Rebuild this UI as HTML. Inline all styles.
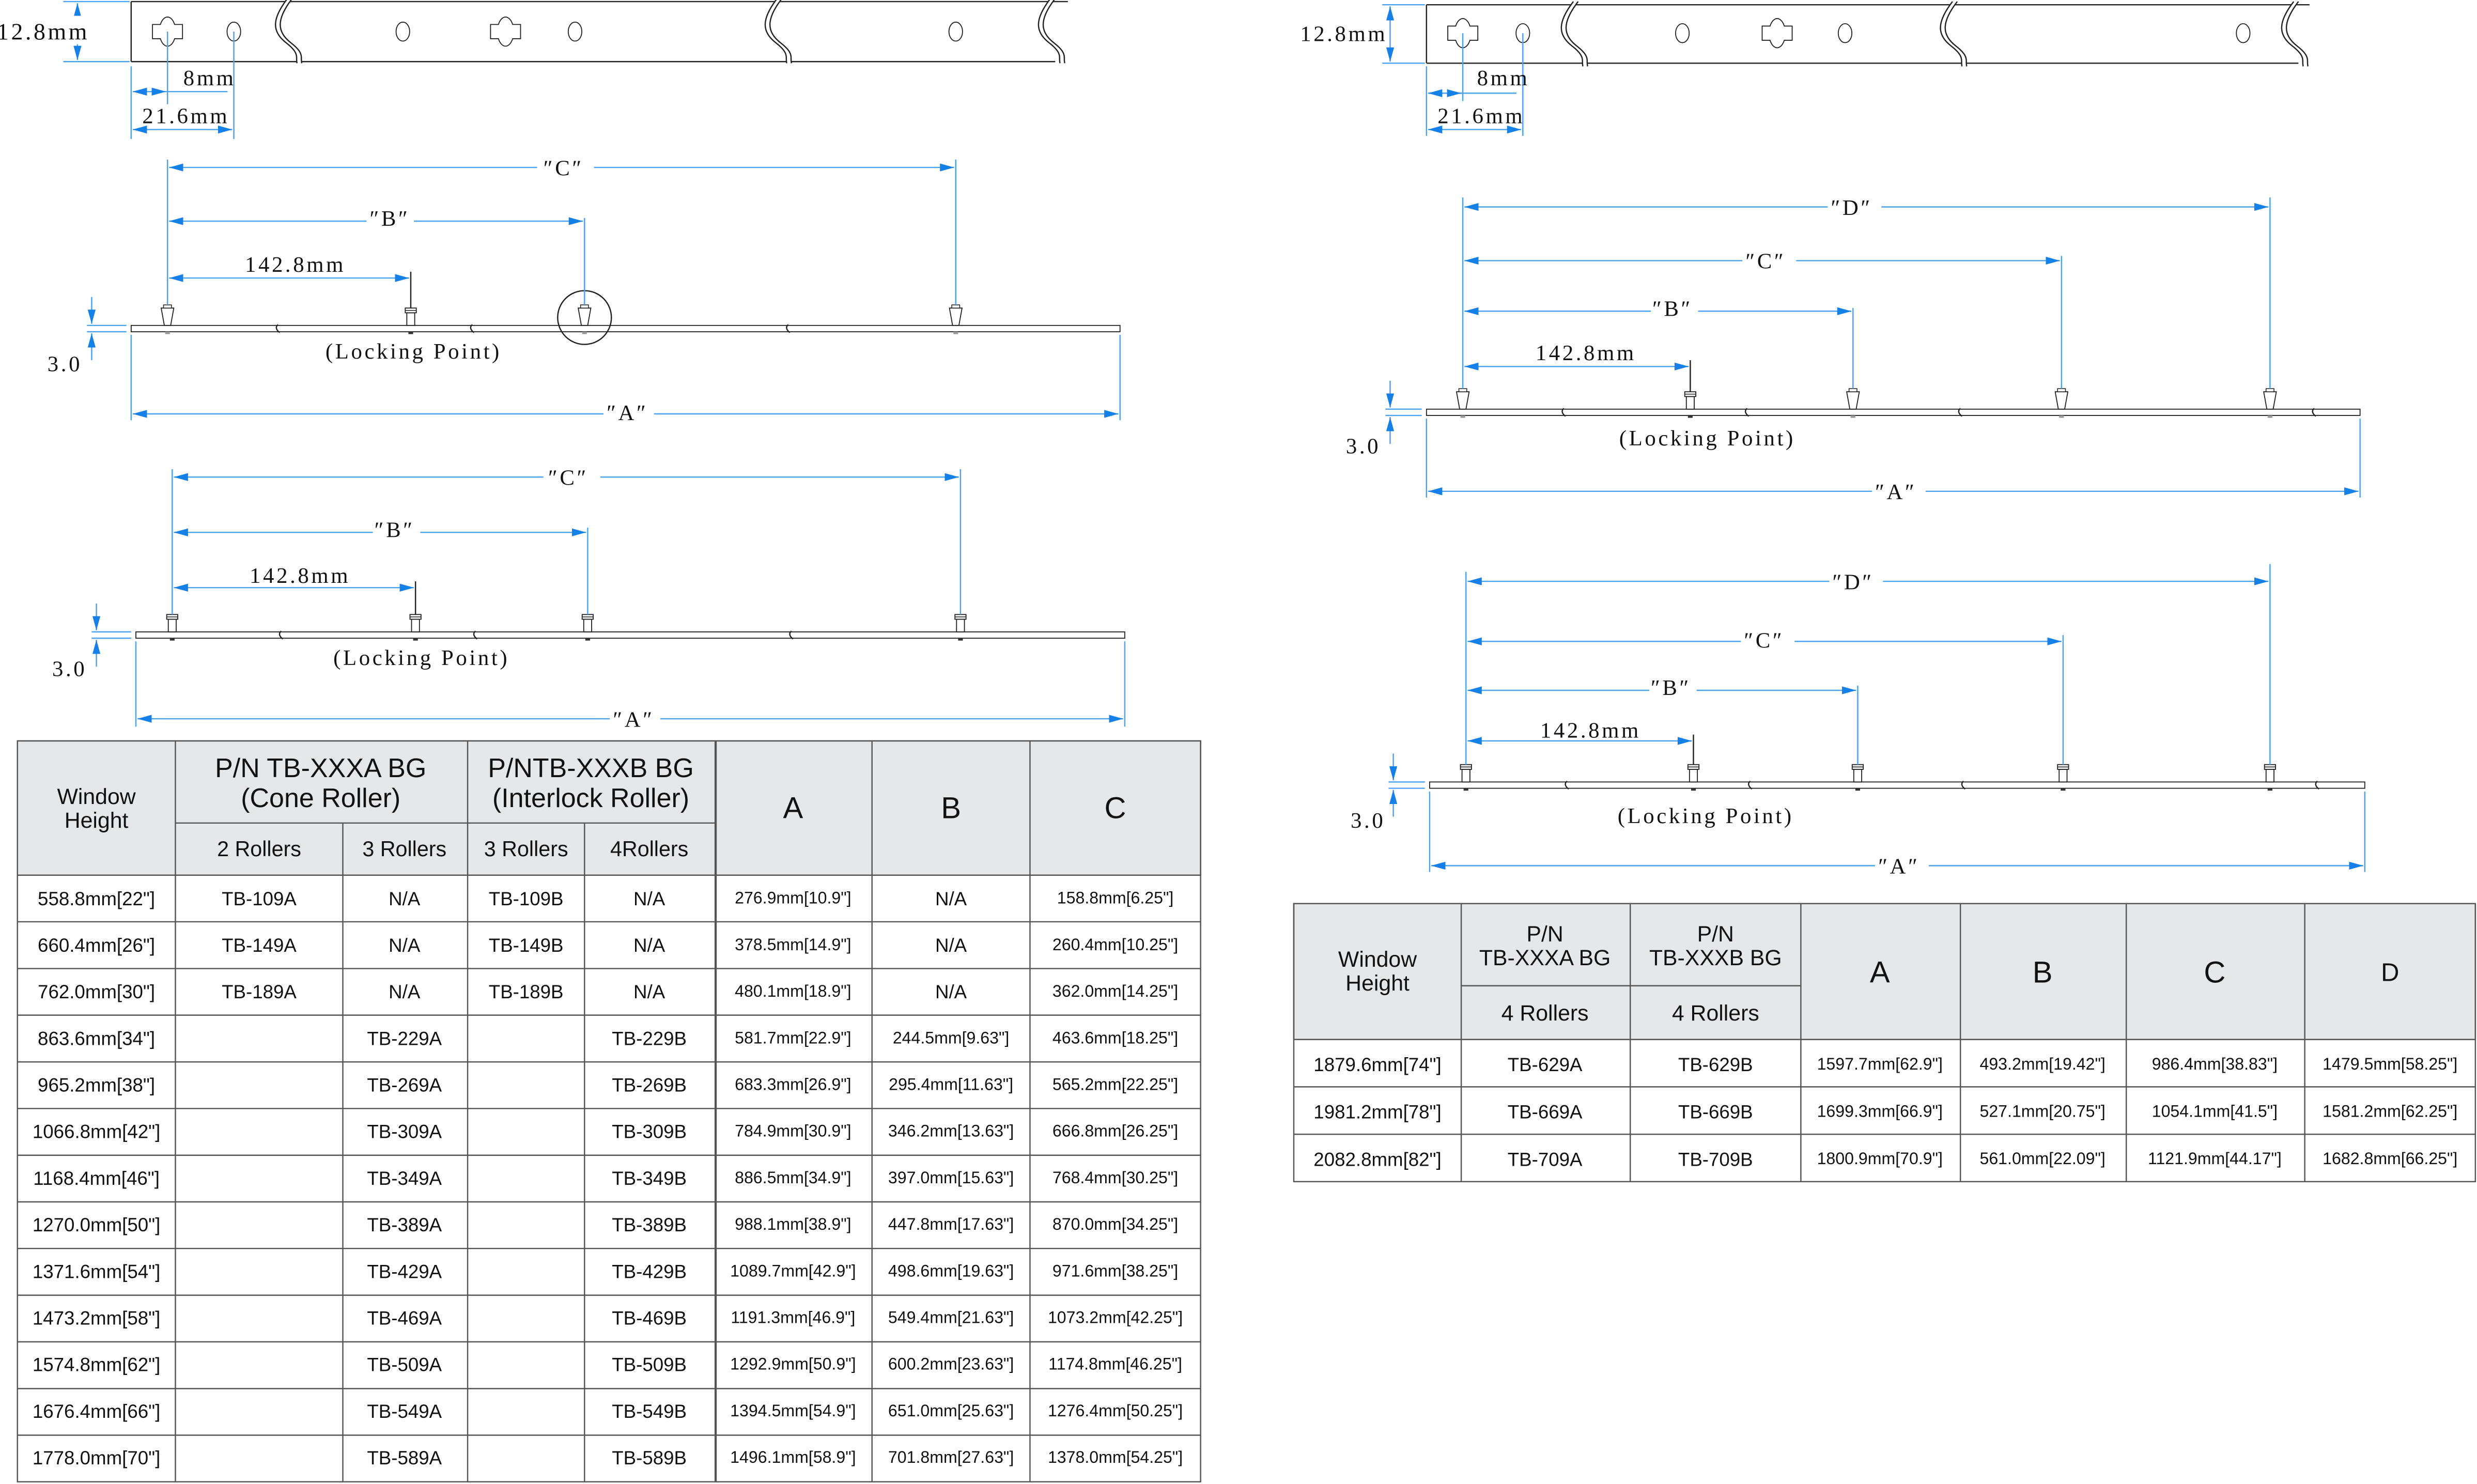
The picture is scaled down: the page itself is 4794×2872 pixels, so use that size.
<!DOCTYPE html>
<html><head><meta charset="utf-8"><style>
html,body{margin:0;padding:0;background:#fff;}
svg{display:block;}
.d{font-family:"Liberation Serif",serif;font-size:14px;letter-spacing:1.5px;fill:#111;}
.t{font-family:"Liberation Sans",sans-serif;fill:#111;text-anchor:middle;}
.dl{stroke:#4aa3f0;stroke-width:0.8;fill:none;}
.ol{stroke:#222;stroke-width:0.8;fill:none;}
</style></head><body>
<svg width="4794" height="2872" viewBox="0 0 1568 939.4" xmlns="http://www.w3.org/2000/svg">
<defs>
<marker id="a" markerUnits="userSpaceOnUse" markerWidth="9" markerHeight="5" refX="9" refY="2.5" orient="auto-start-reverse"><path d="M0,0L9,2.5L0,5z" fill="#1580e8"/></marker>
<g id="kh"><path d="M-9.5,-4.5H-4.5A5.2,9.5 0 0 1 4.5,-4.5H9.5V4.5H4.5A5.2,9.5 0 0 1 -4.5,4.5H-9.5Z" fill="#fff" stroke="#222" stroke-width="0.6"/></g>
<g id="ho"><ellipse cx="0" cy="0" rx="4.3" ry="6" fill="#fff" stroke="#222" stroke-width="0.6"/></g>
<g id="br"><path d="M0,-1C-10,12 -10,20 -1,27S5,36 6,40L9,40C8,36 6,30 2,27S-7,12 3,-1Z" fill="#fff"/><path d="M0,-1C-10,12 -10,20 -1,27S5,36 6,40M3,-1C-7,12 -7,20 2,27S8,36 9,40" class="ol" stroke-width="0.5"/></g>
<g id="cone"><path d="M-4,-11L4,-11L2,0L-2,0Z" fill="#fff" stroke="#222" stroke-width="0.6"/><rect x="-2.5" y="-13" width="5" height="2" fill="#fff" stroke="#222" stroke-width="0.5"/><rect x="-1.5" y="4" width="3" height="1.5" fill="#999"/></g>
<g id="flat"><rect x="-2.5" y="-8" width="5" height="8" fill="#fff" stroke="#222" stroke-width="0.6"/><rect x="-3.5" y="-11" width="7" height="3" fill="#fff" stroke="#222" stroke-width="0.6"/><line x1="-3.5" y1="-9.5" x2="3.5" y2="-9.5" stroke="#222" stroke-width="0.5"/><rect x="-1.5" y="4" width="3" height="1.5" fill="#333"/></g>
<g id="rb"><path d="M0,-0.5 C-2,1 -1,3 1,4.5" class="ol" stroke-width="0.5"/></g>
</defs>

<!-- TOP LEFT STRIP -->
<line x1="83" y1="1" x2="676" y2="1" class="ol"/><line x1="83" y1="39" x2="668" y2="39" class="ol"/><line x1="83" y1="1" x2="83" y2="39" class="ol"/>
<use href="#br" x="182" y="0"/><use href="#br" x="492" y="0"/><use href="#br" x="665" y="0"/>
<use href="#kh" x="106" y="20"/><use href="#ho" x="148" y="20"/><use href="#ho" x="255" y="20"/><use href="#kh" x="320" y="20"/><use href="#ho" x="364" y="20"/><use href="#ho" x="605" y="20"/>
<line x1="40" y1="1" x2="82" y2="1" class="dl"/><line x1="40" y1="39" x2="82" y2="39" class="dl"/>
<line x1="49" y1="2" x2="49" y2="38" class="dl" marker-start="url(#a)" marker-end="url(#a)"/>
<rect x="0" y="10" width="54" height="18" fill="#fff"/>
<text x="-2" y="25" class="d" style="font-size:15px">12.8mm</text>
<line x1="83" y1="42" x2="83" y2="88" class="dl"/><line x1="106" y1="20" x2="106" y2="66" class="dl"/><line x1="148" y1="20" x2="148" y2="88" class="dl"/>
<line x1="84" y1="58" x2="105" y2="58" class="dl" marker-start="url(#a)" marker-end="url(#a)"/><line x1="105" y1="58" x2="144" y2="58" class="dl"/>
<line x1="84" y1="82" x2="147" y2="82" class="dl" marker-start="url(#a)" marker-end="url(#a)"/>
<text x="116" y="54" class="d">8mm</text><text x="90" y="78" class="d">21.6mm</text>

<!-- TOP RIGHT STRIP -->
<line x1="903" y1="3" x2="1462" y2="3" class="ol"/><line x1="903" y1="40" x2="1455" y2="40" class="ol"/><line x1="903" y1="3" x2="903" y2="40" class="ol"/>
<use href="#br" x="996" y="2"/><use href="#br" x="1236" y="2"/><use href="#br" x="1452" y="2"/>
<use href="#kh" x="926" y="21"/><use href="#ho" x="964" y="21"/><use href="#ho" x="1065" y="21"/><use href="#kh" x="1125" y="21"/><use href="#ho" x="1168" y="21"/><use href="#ho" x="1420" y="21"/>
<line x1="875" y1="3" x2="902" y2="3" class="dl"/><line x1="875" y1="40" x2="902" y2="40" class="dl"/>
<line x1="880" y1="4" x2="880" y2="39" class="dl" marker-start="url(#a)" marker-end="url(#a)"/>
<rect x="822" y="12" width="52" height="18" fill="#fff"/>
<text x="823" y="26" class="d">12.8mm</text>
<line x1="903" y1="42" x2="903" y2="86" class="dl"/><line x1="926" y1="21" x2="926" y2="64" class="dl"/><line x1="964" y1="21" x2="964" y2="86" class="dl"/>
<line x1="904" y1="59" x2="925" y2="59" class="dl" marker-start="url(#a)" marker-end="url(#a)"/><line x1="925" y1="59" x2="960" y2="59" class="dl"/>
<line x1="904" y1="82" x2="963" y2="82" class="dl" marker-start="url(#a)" marker-end="url(#a)"/>
<text x="935" y="54" class="d">8mm</text><text x="910" y="78" class="d">21.6mm</text>

<!-- DRAWING 1 -->
<rect x="83" y="206" width="626" height="4" fill="#fff" stroke="#222" stroke-width="0.6"/>
<use href="#rb" x="176" y="206"/><use href="#rb" x="299" y="206"/><use href="#rb" x="499" y="206"/>
<circle cx="370" cy="201" r="17" class="ol" stroke-width="0.6"/>
<use href="#cone" x="106" y="206"/><use href="#flat" x="260" y="206"/><use href="#cone" x="370" y="206"/><use href="#cone" x="605" y="206"/>
<line x1="106" y1="101" x2="106" y2="193" class="dl"/><line x1="260" y1="172" x2="260" y2="195" class="ol" stroke-width="0.5"/><line x1="370" y1="138" x2="370" y2="193" class="dl"/><line x1="605" y1="101" x2="605" y2="193" class="dl"/>
<line x1="107" y1="176" x2="259" y2="176" class="dl" marker-start="url(#a)" marker-end="url(#a)"/>
<line x1="107" y1="140" x2="369" y2="140" class="dl" marker-start="url(#a)" marker-end="url(#a)"/>
<line x1="107" y1="106" x2="604" y2="106" class="dl" marker-start="url(#a)" marker-end="url(#a)"/>
<rect x="232" y="130" width="30" height="16" fill="#fff"/><rect x="340" y="97" width="36" height="16" fill="#fff"/>
<text x="155" y="172" class="d">142.8mm</text><text x="234" y="143" class="d">″B″</text><text x="344" y="111" class="d">″C″</text>
<line x1="83" y1="212" x2="83" y2="266" class="dl"/><line x1="709" y1="212" x2="709" y2="266" class="dl"/>
<line x1="84" y1="262" x2="708" y2="262" class="dl" marker-start="url(#a)" marker-end="url(#a)"/>
<rect x="382" y="253" width="32" height="16" fill="#fff"/><text x="384" y="266" class="d">″A″</text>
<line x1="55" y1="206" x2="80" y2="206" class="dl"/><line x1="55" y1="210" x2="80" y2="210" class="dl"/>
<line x1="58" y1="188" x2="58" y2="205" class="dl" marker-end="url(#a)"/><line x1="58" y1="228" x2="58" y2="211" class="dl" marker-end="url(#a)"/>
<text x="30" y="235" class="d">3.0</text>
<text x="206" y="227" class="d">(Locking Point)</text>

<!-- DRAWING 2 -->
<rect x="86" y="400" width="626" height="4" fill="#fff" stroke="#222" stroke-width="0.6"/>
<use href="#rb" x="178" y="400"/><use href="#rb" x="301" y="400"/><use href="#rb" x="501" y="400"/>
<use href="#flat" x="109" y="400"/><use href="#flat" x="263" y="400"/><use href="#flat" x="372" y="400"/><use href="#flat" x="608" y="400"/>
<line x1="109" y1="297" x2="109" y2="389" class="dl"/><line x1="263" y1="368" x2="263" y2="389" class="ol" stroke-width="0.5"/><line x1="372" y1="334" x2="372" y2="389" class="dl"/><line x1="608" y1="297" x2="608" y2="389" class="dl"/>
<line x1="110" y1="372" x2="262" y2="372" class="dl" marker-start="url(#a)" marker-end="url(#a)"/>
<line x1="110" y1="337" x2="371" y2="337" class="dl" marker-start="url(#a)" marker-end="url(#a)"/>
<line x1="110" y1="302" x2="607" y2="302" class="dl" marker-start="url(#a)" marker-end="url(#a)"/>
<rect x="236" y="327" width="30" height="16" fill="#fff"/><rect x="344" y="293" width="36" height="16" fill="#fff"/>
<text x="158" y="369" class="d">142.8mm</text><text x="237" y="340" class="d">″B″</text><text x="347" y="307" class="d">″C″</text>
<line x1="86" y1="406" x2="86" y2="460" class="dl"/><line x1="712" y1="406" x2="712" y2="460" class="dl"/>
<line x1="87" y1="455" x2="711" y2="455" class="dl" marker-start="url(#a)" marker-end="url(#a)"/>
<rect x="386" y="446" width="32" height="16" fill="#fff"/><text x="388" y="460" class="d">″A″</text>
<line x1="58" y1="400" x2="83" y2="400" class="dl"/><line x1="58" y1="404" x2="83" y2="404" class="dl"/>
<line x1="61" y1="382" x2="61" y2="399" class="dl" marker-end="url(#a)"/><line x1="61" y1="422" x2="61" y2="405" class="dl" marker-end="url(#a)"/>
<text x="33" y="428" class="d">3.0</text>
<text x="211" y="421" class="d">(Locking Point)</text>

<!-- DRAWING 3 -->
<rect x="903" y="259" width="591" height="4" fill="#fff" stroke="#222" stroke-width="0.6"/>
<use href="#rb" x="990" y="259"/><use href="#rb" x="1106" y="259"/><use href="#rb" x="1241" y="259"/><use href="#rb" x="1465" y="259"/>
<use href="#cone" x="926" y="259"/><use href="#flat" x="1070" y="259"/><use href="#cone" x="1173" y="259"/><use href="#cone" x="1305" y="259"/><use href="#cone" x="1437" y="259"/>
<line x1="926" y1="125" x2="926" y2="246" class="dl"/><line x1="1070" y1="228" x2="1070" y2="248" class="ol" stroke-width="0.5"/><line x1="1173" y1="195" x2="1173" y2="246" class="dl"/><line x1="1305" y1="162" x2="1305" y2="246" class="dl"/><line x1="1437" y1="125" x2="1437" y2="246" class="dl"/>
<line x1="927" y1="232" x2="1069" y2="232" class="dl" marker-start="url(#a)" marker-end="url(#a)"/>
<line x1="927" y1="197" x2="1172" y2="197" class="dl" marker-start="url(#a)" marker-end="url(#a)"/>
<line x1="927" y1="165" x2="1304" y2="165" class="dl" marker-start="url(#a)" marker-end="url(#a)"/>
<line x1="927" y1="131" x2="1436" y2="131" class="dl" marker-start="url(#a)" marker-end="url(#a)"/>
<rect x="1045" y="187" width="30" height="16" fill="#fff"/><rect x="1103" y="156" width="34" height="16" fill="#fff"/><rect x="1157" y="122" width="34" height="16" fill="#fff"/>
<text x="972" y="228" class="d">142.8mm</text><text x="1046" y="200" class="d">″B″</text><text x="1105" y="170" class="d">″C″</text><text x="1159" y="136" class="d">″D″</text>
<line x1="903" y1="265" x2="903" y2="315" class="dl"/><line x1="1494" y1="265" x2="1494" y2="315" class="dl"/>
<line x1="904" y1="311" x2="1493" y2="311" class="dl" marker-start="url(#a)" marker-end="url(#a)"/>
<rect x="1185" y="302" width="34" height="16" fill="#fff"/><text x="1187" y="316" class="d">″A″</text>
<line x1="877" y1="259" x2="900" y2="259" class="dl"/><line x1="877" y1="263" x2="900" y2="263" class="dl"/>
<line x1="880" y1="241" x2="880" y2="258" class="dl" marker-end="url(#a)"/><line x1="880" y1="281" x2="880" y2="264" class="dl" marker-end="url(#a)"/>
<text x="852" y="287" class="d">3.0</text>
<text x="1025" y="282" class="d">(Locking Point)</text>

<!-- DRAWING 4 -->
<rect x="905" y="495" width="592" height="4" fill="#fff" stroke="#222" stroke-width="0.6"/>
<use href="#rb" x="992" y="495"/><use href="#rb" x="1108" y="495"/><use href="#rb" x="1243" y="495"/><use href="#rb" x="1467" y="495"/>
<use href="#flat" x="928" y="495"/><use href="#flat" x="1072" y="495"/><use href="#flat" x="1176" y="495"/><use href="#flat" x="1306" y="495"/><use href="#flat" x="1437" y="495"/>
<line x1="928" y1="362" x2="928" y2="484" class="dl"/><line x1="1072" y1="465" x2="1072" y2="484" class="ol" stroke-width="0.5"/><line x1="1176" y1="434" x2="1176" y2="484" class="dl"/><line x1="1306" y1="402" x2="1306" y2="484" class="dl"/><line x1="1437" y1="357" x2="1437" y2="484" class="dl"/>
<line x1="929" y1="469" x2="1071" y2="469" class="dl" marker-start="url(#a)" marker-end="url(#a)"/>
<line x1="929" y1="437" x2="1175" y2="437" class="dl" marker-start="url(#a)" marker-end="url(#a)"/>
<line x1="929" y1="406" x2="1305" y2="406" class="dl" marker-start="url(#a)" marker-end="url(#a)"/>
<line x1="929" y1="368" x2="1436" y2="368" class="dl" marker-start="url(#a)" marker-end="url(#a)"/>
<rect x="1044" y="427" width="30" height="16" fill="#fff"/><rect x="1102" y="397" width="34" height="16" fill="#fff"/><rect x="1158" y="359" width="34" height="16" fill="#fff"/>
<text x="975" y="467" class="d">142.8mm</text><text x="1045" y="440" class="d">″B″</text><text x="1104" y="410" class="d">″C″</text><text x="1160" y="373" class="d">″D″</text>
<line x1="905" y1="501" x2="905" y2="552" class="dl"/><line x1="1497" y1="501" x2="1497" y2="552" class="dl"/>
<line x1="906" y1="548" x2="1496" y2="548" class="dl" marker-start="url(#a)" marker-end="url(#a)"/>
<rect x="1187" y="539" width="34" height="16" fill="#fff"/><text x="1189" y="553" class="d">″A″</text>
<line x1="879" y1="495" x2="902" y2="495" class="dl"/><line x1="879" y1="499" x2="902" y2="499" class="dl"/>
<line x1="882" y1="477" x2="882" y2="494" class="dl" marker-end="url(#a)"/><line x1="882" y1="517" x2="882" y2="500" class="dl" marker-end="url(#a)"/>
<text x="855" y="524" class="d">3.0</text>
<text x="1024" y="521" class="d">(Locking Point)</text>

<!-- LEFT TABLE -->
<g stroke="#555" stroke-width="0.8">
<rect x="11" y="469" width="749" height="85" fill="#e6e7e8"/>
<rect x="11" y="469" width="749" height="469" fill="none"/>
<line x1="111" y1="469" x2="111" y2="938"/><line x1="296" y1="469" x2="296" y2="938"/><line x1="453" y1="469" x2="453" y2="938" stroke-width="1.4"/>
<line x1="552" y1="469" x2="552" y2="938"/><line x1="652" y1="469" x2="652" y2="938"/>
<line x1="217" y1="521" x2="217" y2="938"/><line x1="370" y1="521" x2="370" y2="938"/>
<line x1="111" y1="521" x2="453" y2="521"/>
<line x1="11" y1="554" x2="760" y2="554"/>
<line x1="11" y1="583.5" x2="760" y2="583.5"/><line x1="11" y1="613.1" x2="760" y2="613.1"/><line x1="11" y1="642.6" x2="760" y2="642.6"/><line x1="11" y1="672.2" x2="760" y2="672.2"/><line x1="11" y1="701.7" x2="760" y2="701.7"/><line x1="11" y1="731.3" x2="760" y2="731.3"/><line x1="11" y1="760.8" x2="760" y2="760.8"/><line x1="11" y1="790.3" x2="760" y2="790.3"/><line x1="11" y1="819.9" x2="760" y2="819.9"/><line x1="11" y1="849.4" x2="760" y2="849.4"/><line x1="11" y1="879" x2="760" y2="879"/><line x1="11" y1="908.5" x2="760" y2="908.5"/>
</g>
<g class="t" style="font-size:14px"><text x="61" y="509">Window</text><text x="61" y="524">Height</text></g>
<g class="t" style="font-size:17px"><text x="203" y="492">P/N TB-XXXA BG</text><text x="203" y="511">(Cone Roller)</text><text x="374" y="492">P/NTB-XXXB BG</text><text x="374" y="511">(Interlock Roller)</text>
<text x="502" y="518" style="font-size:19px">A</text><text x="602" y="518" style="font-size:19px">B</text><text x="706" y="518" style="font-size:19px">C</text></g>
<g class="t" style="font-size:13.5px"><text x="164" y="542">2 Rollers</text><text x="256" y="542">3 Rollers</text><text x="333" y="542">3 Rollers</text><text x="411" y="542">4Rollers</text></g>
<g class="t" style="font-size:12px">
<text x="61" y="573">558.8mm[22"]</text><text x="61" y="602.5">660.4mm[26"]</text><text x="61" y="632">762.0mm[30"]</text><text x="61" y="661.5">863.6mm[34"]</text><text x="61" y="691">965.2mm[38"]</text><text x="61" y="720.5">1066.8mm[42"]</text><text x="61" y="750">1168.4mm[46"]</text><text x="61" y="779.5">1270.0mm[50"]</text><text x="61" y="809">1371.6mm[54"]</text><text x="61" y="838.5">1473.2mm[58"]</text><text x="61" y="868">1574.8mm[62"]</text><text x="61" y="897.5">1676.4mm[66"]</text><text x="61" y="927">1778.0mm[70"]</text>
<text x="164" y="573">TB-109A</text><text x="164" y="602.5">TB-149A</text><text x="164" y="632">TB-189A</text>
<text x="256" y="573">N/A</text><text x="256" y="602.5">N/A</text><text x="256" y="632">N/A</text>
<text x="333" y="573">TB-109B</text><text x="333" y="602.5">TB-149B</text><text x="333" y="632">TB-189B</text>
<text x="411" y="573">N/A</text><text x="411" y="602.5">N/A</text><text x="411" y="632">N/A</text>
<text x="256" y="661.5">TB-229A</text><text x="256" y="691">TB-269A</text><text x="256" y="720.5">TB-309A</text><text x="256" y="750">TB-349A</text><text x="256" y="779.5">TB-389A</text><text x="256" y="809">TB-429A</text><text x="256" y="838.5">TB-469A</text><text x="256" y="868">TB-509A</text><text x="256" y="897.5">TB-549A</text><text x="256" y="927">TB-589A</text>
<text x="411" y="661.5">TB-229B</text><text x="411" y="691">TB-269B</text><text x="411" y="720.5">TB-309B</text><text x="411" y="750">TB-349B</text><text x="411" y="779.5">TB-389B</text><text x="411" y="809">TB-429B</text><text x="411" y="838.5">TB-469B</text><text x="411" y="868">TB-509B</text><text x="411" y="897.5">TB-549B</text><text x="411" y="927">TB-589B</text>
<text x="602" y="573">N/A</text><text x="602" y="602.5">N/A</text><text x="602" y="632">N/A</text>
</g>
<g class="t" style="font-size:10.5px">
<text x="502" y="572">276.9mm[10.9"]</text><text x="502" y="601.5">378.5mm[14.9"]</text><text x="502" y="631">480.1mm[18.9"]</text><text x="502" y="660.5">581.7mm[22.9"]</text><text x="502" y="690">683.3mm[26.9"]</text><text x="502" y="719.5">784.9mm[30.9"]</text><text x="502" y="749">886.5mm[34.9"]</text><text x="502" y="778.5">988.1mm[38.9"]</text><text x="502" y="808">1089.7mm[42.9"]</text><text x="502" y="837.5">1191.3mm[46.9"]</text><text x="502" y="867">1292.9mm[50.9"]</text><text x="502" y="896.5">1394.5mm[54.9"]</text><text x="502" y="926">1496.1mm[58.9"]</text>
<text x="602" y="660.5">244.5mm[9.63"]</text><text x="602" y="690">295.4mm[11.63"]</text><text x="602" y="719.5">346.2mm[13.63"]</text><text x="602" y="749">397.0mm[15.63"]</text><text x="602" y="778.5">447.8mm[17.63"]</text><text x="602" y="808">498.6mm[19.63"]</text><text x="602" y="837.5">549.4mm[21.63"]</text><text x="602" y="867">600.2mm[23.63"]</text><text x="602" y="896.5">651.0mm[25.63"]</text><text x="602" y="926">701.8mm[27.63"]</text>
<text x="706" y="572">158.8mm[6.25"]</text><text x="706" y="601.5">260.4mm[10.25"]</text><text x="706" y="631">362.0mm[14.25"]</text><text x="706" y="660.5">463.6mm[18.25"]</text><text x="706" y="690">565.2mm[22.25"]</text><text x="706" y="719.5">666.8mm[26.25"]</text><text x="706" y="749">768.4mm[30.25"]</text><text x="706" y="778.5">870.0mm[34.25"]</text><text x="706" y="808">971.6mm[38.25"]</text><text x="706" y="837.5">1073.2mm[42.25"]</text><text x="706" y="867">1174.8mm[46.25"]</text><text x="706" y="896.5">1276.4mm[50.25"]</text><text x="706" y="926">1378.0mm[54.25"]</text>
</g>

<!-- RIGHT TABLE -->
<g stroke="#555" stroke-width="0.8">
<rect x="819" y="572" width="748" height="86" fill="#e6e7e8"/>
<rect x="819" y="572" width="748" height="176" fill="none"/>
<line x1="925" y1="572" x2="925" y2="748"/><line x1="1032" y1="572" x2="1032" y2="748"/><line x1="1140" y1="572" x2="1140" y2="748"/><line x1="1241" y1="572" x2="1241" y2="748"/><line x1="1346" y1="572" x2="1346" y2="748"/><line x1="1459" y1="572" x2="1459" y2="748"/>
<line x1="925" y1="624" x2="1140" y2="624"/>
<line x1="819" y1="658" x2="1567" y2="658"/><line x1="819" y1="688" x2="1567" y2="688"/><line x1="819" y1="718" x2="1567" y2="718"/>
</g>
<g class="t" style="font-size:14px"><text x="872" y="612">Window</text><text x="872" y="627">Height</text>
<text x="978" y="596">P/N</text><text x="978" y="611">TB-XXXA BG</text><text x="1086" y="596">P/N</text><text x="1086" y="611">TB-XXXB BG</text>
<text x="978" y="646">4 Rollers</text><text x="1086" y="646">4 Rollers</text>
<text x="1190" y="622" style="font-size:19px">A</text><text x="1293" y="622" style="font-size:19px">B</text><text x="1402" y="622" style="font-size:19px">C</text><text x="1513" y="621" style="font-size:16px">D</text></g>
<g class="t" style="font-size:12px">
<text x="872" y="678">1879.6mm[74"]</text><text x="872" y="708">1981.2mm[78"]</text><text x="872" y="738">2082.8mm[82"]</text>
<text x="978" y="678">TB-629A</text><text x="978" y="708">TB-669A</text><text x="978" y="738">TB-709A</text>
<text x="1086" y="678">TB-629B</text><text x="1086" y="708">TB-669B</text><text x="1086" y="738">TB-709B</text>
</g>
<g class="t" style="font-size:10.5px">
<text x="1190" y="677">1597.7mm[62.9"]</text><text x="1190" y="707">1699.3mm[66.9"]</text><text x="1190" y="737">1800.9mm[70.9"]</text>
<text x="1293" y="677">493.2mm[19.42"]</text><text x="1293" y="707">527.1mm[20.75"]</text><text x="1293" y="737">561.0mm[22.09"]</text>
<text x="1402" y="677">986.4mm[38.83"]</text><text x="1402" y="707">1054.1mm[41.5"]</text><text x="1402" y="737">1121.9mm[44.17"]</text>
<text x="1513" y="677">1479.5mm[58.25"]</text><text x="1513" y="707">1581.2mm[62.25"]</text><text x="1513" y="737">1682.8mm[66.25"]</text>
</g>
</svg>
</body></html>
